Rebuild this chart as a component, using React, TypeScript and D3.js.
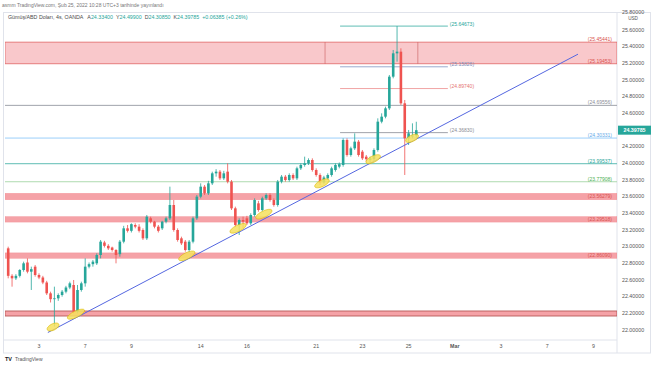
import React from 'react';
import * as d3 from 'd3';

// 4h bars, index 0 = Feb 1 00:00 (trading bars only, weekends skipped)
const firstBar = 4;
const opens = [
  22.98, 22.65, 22.62, 22.65, 22.72, 22.81, 22.70, 22.76, 22.66, 22.63, 22.57, 22.44, 22.37, 22.38, 22.42, 22.46, 22.51,
  22.54, 22.22, 22.48, 22.56, 22.76, 22.79, 22.80, 22.90, 23.05, 23.01, 22.99, 22.96, 22.91, 23.06, 23.22, 23.19,
  23.26, 23.24, 23.20, 23.10, 23.34, 23.30, 23.24, 23.22, 23.30, 23.34, 23.50, 23.20, 23.10, 23.06, 22.96, 23.06,
  23.34, 23.60, 23.72, 23.64, 23.76, 23.88, 23.90, 23.82, 23.90, 23.78, 23.46, 23.26, 23.32, 23.34, 23.28, 23.38,
  23.52, 23.44, 23.58, 23.62, 23.56, 23.50, 23.78, 23.84, 23.80, 23.86, 23.82, 23.94, 23.98, 24.00, 24.04, 23.92,
  23.86, 23.77, 23.82, 23.86, 23.92, 23.96, 23.98, 24.28, 24.10, 24.18, 24.26, 24.14, 24.08, 24.04, 24.05, 24.16,
  24.50, 24.56, 24.66, 25.04, 25.32, 25.34, 24.72, 24.30, 24.32, 24.334,
];
const highs = [
  23.00, 22.67, 22.67, 22.73, 22.82, 22.86, 22.76, 22.78, 22.68, 22.65, 22.59, 22.46, 22.52, 22.44, 22.48, 22.53, 22.58,
  22.60, 22.54, 22.58, 22.86, 22.81, 22.84, 22.92, 23.08, 23.07, 23.03, 23.00, 22.97, 23.08, 23.25, 23.26, 23.28,
  23.28, 23.27, 23.22, 23.38, 23.36, 23.31, 23.26, 23.31, 23.36, 23.72, 23.56, 23.22, 23.12, 23.08, 23.08, 23.36,
  23.62, 23.76, 23.74, 23.79, 23.90, 23.93, 23.92, 23.91, 24.00, 23.80, 23.48, 23.34, 23.36, 23.37, 23.40, 23.58,
  23.55, 23.60, 23.64, 23.64, 23.58, 23.80, 23.86, 23.86, 23.88, 23.88, 23.96, 24.00, 24.08, 24.06, 24.06, 23.94,
  23.88, 23.85, 23.88, 23.96, 24.00, 24.01, 24.30, 24.30, 24.20, 24.36, 24.28, 24.16, 24.10, 24.08, 24.18, 24.54,
  24.60, 24.68, 25.06, 25.36, 25.64673, 25.38, 24.76, 24.40, 24.48, 24.499,
];
const lows = [
  22.62, 22.52, 22.60, 22.63, 22.70, 22.68, 22.48, 22.64, 22.61, 22.55, 22.42, 22.33, 22.04, 22.35, 22.40, 22.44, 22.49,
  22.20, 22.20, 22.46, 22.52, 22.74, 22.76, 22.78, 22.86, 22.99, 22.96, 22.94, 22.80, 22.88, 23.04, 23.17, 23.17,
  23.22, 23.17, 23.08, 23.08, 23.28, 23.22, 23.17, 23.20, 23.28, 23.32, 23.18, 23.06, 23.02, 22.94, 22.93, 23.04,
  23.32, 23.58, 23.62, 23.62, 23.74, 23.84, 23.80, 23.80, 23.76, 23.44, 23.24, 23.14, 23.22, 23.26, 23.26, 23.36,
  23.42, 23.42, 23.56, 23.54, 23.48, 23.48, 23.76, 23.78, 23.78, 23.80, 23.80, 23.92, 23.96, 23.98, 23.90, 23.84,
  23.74, 23.75, 23.80, 23.84, 23.90, 23.94, 23.96, 24.08, 24.08, 24.16, 24.08, 24.04, 24.02, 24.00, 24.03, 24.14,
  24.48, 24.54, 24.64, 25.02, 25.22, 24.70, 23.86, 24.22, 24.30, 24.3085,
];
const closes = [
  22.65, 22.62, 22.65, 22.72, 22.80, 22.70, 22.73, 22.66, 22.63, 22.57, 22.44, 22.37, 22.38, 22.42, 22.46, 22.51, 22.56,
  22.22, 22.48, 22.56, 22.76, 22.79, 22.82, 22.90, 23.06, 23.01, 22.98, 22.96, 22.90, 23.06, 23.22, 23.19, 23.27,
  23.24, 23.19, 23.10, 23.36, 23.30, 23.24, 23.19, 23.30, 23.34, 23.50, 23.20, 23.08, 23.04, 22.96, 23.06, 23.34,
  23.60, 23.72, 23.64, 23.76, 23.88, 23.90, 23.82, 23.88, 23.78, 23.46, 23.26, 23.32, 23.30, 23.28, 23.38, 23.56,
  23.44, 23.58, 23.62, 23.56, 23.50, 23.78, 23.84, 23.80, 23.86, 23.82, 23.94, 23.98, 24.00, 24.04, 23.92, 23.86,
  23.77, 23.83, 23.86, 23.94, 23.98, 23.99, 24.28, 24.10, 24.18, 24.26, 24.10, 24.06, 24.05, 24.06, 24.16, 24.50,
  24.56, 24.66, 25.04, 25.32, 25.34, 24.72, 24.30, 24.36, 24.334, 24.39785,
];
const lastPrice = 24.39785;

const priceTicks = [25.8, 25.6, 25.4, 25.2, 25.0, 24.8, 24.6, 24.2, 24.0, 23.8, 23.6, 23.4, 23.2, 23.0, 22.8, 22.6, 22.4, 22.2, 22.0];
const dateTickBars = [12, 24, 36, 54, 66, 84, 96, 108, 120, 132, 144, 156];
const dateTickLabels = ['3', '7', '9', '14', '16', '21', '23', '25', 'Mar', '3', '7', '9'];

const fullLevels = [24.69556, 24.30331, 23.99537, 23.77908];
const fullLevelColors = ['#9598a1', '#90caf9', '#4db6ac', '#a5d6a7'];
const fullLabelColors = ['#8a8d96', '#64a9e8', '#26a69a', '#4caf50'];
const shortLevels = [25.64673, 25.15826, 24.8974, 24.3683];
const shortLevelColors = ['#4db6ac', '#8fa0c8', '#ef9a9a', '#9598a1'];
const shortLabelColors = ['#26a69a', '#7b8bb8', '#e57373', '#8a8d96'];
const shortSpan = [90.2, 118.2];
const bandLows = [23.56279, 23.29518, 22.8609, 22.168];
const bandHighs = [23.64, 23.36, 22.925, 22.228];
const bandLabels = ['(23.56279)', '(23.29518)', '(22.86090)', ''];
const zonePrices = [25.19453, 25.45441];
const zoneEdgeBars = [86.3, 110.4];
const trendBars = [14.3, 152];
const trendPrices = [21.97, 25.31];
const touchBars = [15.65, 21.6, 50.4, 63.7, 70.4, 85.5, 98.8, 108.9];
const touchPrices = [22.036, 22.19, 22.89, 23.22, 23.39, 23.76, 24.05, 24.3];
const touchSizes = [6.5, 9.5, 9, 9, 9, 8, 8, 7];

const W = 654;
const H = 366;
const plot = { left: 5, right: 617, top: 12.5, bottom: 340 };
const font = 'Liberation Sans, Arial, sans-serif';

export default function App() {
  const x = d3.scaleLinear().domain([0, 156]).range([-7.2, -7.2 + 156 * 3.85]);
  const y = d3.scaleLinear().domain([22, 25.8]).range([330, 13.33]);
  const fmt = (v: number) => v.toFixed(5);
  const bodyW = 2.6;

  return (
    <svg width={W} height={H} style={{ position: 'absolute', left: 0, top: 0, background: '#fff' }} fontFamily={font}>
      <defs>
        <clipPath id="plotClip">
          <rect x={plot.left} y={plot.top} width={plot.right - plot.left} height={plot.bottom - plot.top} />
        </clipPath>
      </defs>

      {/* header */}
      <text x={2} y={6.5} fontSize={5} fill="#777">asmm TradingView.com, Şub 25, 2022 10:28 UTC+3 tarihinde yayınlandı</text>
      <text x={8} y={19} fontSize={5.3} fill="#4a4a4a">
        Gümüş/ABD Doları, 4s, OANDA
        <tspan dx={4}>A</tspan><tspan fill="#26a69a">24.33400</tspan>
        <tspan dx={3}>Y</tspan><tspan fill="#26a69a">24.49900</tspan>
        <tspan dx={3}>D</tspan><tspan fill="#26a69a">24.30850</tspan>
        <tspan dx={3}>K</tspan><tspan fill="#26a69a">24.39785</tspan>
        <tspan dx={3} fill="#26a69a">+0.06385 (+0.26%)</tspan>
      </text>

      {/* frame */}
      <rect x={3.5} y={plot.top} width={647} height={353 - plot.top} fill="none" stroke="#e0e3eb" />
      <line x1={plot.right} x2={plot.right} y1={plot.top} y2={353} stroke="#e0e3eb" />
      <line x1={3.5} x2={plot.right} y1={plot.bottom} y2={plot.bottom} stroke="#e0e3eb" />

      <g clipPath="url(#plotClip)">
        {/* resistance zone */}
        <rect x={plot.left} width={plot.right - plot.left} y={y(zonePrices[1])} height={y(zonePrices[0]) - y(zonePrices[1])}
          fill="#f7b6ba" fillOpacity={0.75} stroke="#e06666" strokeWidth={0.8} />
        {zoneEdgeBars.map((b, k) => (
          <line key={k} x1={x(b)} x2={x(b)} y1={y(zonePrices[1])} y2={y(zonePrices[0])} stroke="#c95c5c" strokeWidth={0.6} />
        ))}

        {/* bands */}
        {bandLows.map((lo, k) => (
          <rect key={k} x={plot.left} width={plot.right - plot.left} y={y(bandHighs[k])} height={y(lo) - y(bandHighs[k])}
            fill="#f28b91" fillOpacity={0.8} stroke={k === 3 ? '#b85a5a' : '#f28b91'} strokeWidth={k === 3 ? 0.9 : 0.4} />
        ))}

        {/* full width levels */}
        {fullLevels.map((p, k) => (
          <line key={k} x1={plot.left} x2={plot.right} y1={y(p)} y2={y(p)} stroke={fullLevelColors[k]} strokeWidth={0.9} />
        ))}
        {/* short levels */}
        {shortLevels.map((p, k) => (
          <line key={k} x1={x(shortSpan[0])} x2={x(shortSpan[1])} y1={y(p)} y2={y(p)} stroke={shortLevelColors[k]} strokeWidth={0.9} />
        ))}

        {/* candles */}
        {closes.map((c, k) => {
          const i = firstBar + k;
          const o = opens[k];
          const up = c >= o;
          const col = up ? '#26a69a' : '#ef5350';
          const top = y(Math.max(o, c));
          const bot = y(Math.min(o, c));
          return (
            <g key={k}>
              <line x1={x(i)} x2={x(i)} y1={y(highs[k])} y2={y(lows[k])} stroke={col} strokeWidth={0.8} />
              <rect x={x(i) - bodyW / 2} width={bodyW} y={top} height={Math.max(0.8, bot - top)} fill={col} />
            </g>
          );
        })}

        {/* trend line */}
        <line x1={x(trendBars[0])} y1={y(trendPrices[0])} x2={x(trendBars[1])} y2={y(trendPrices[1])} stroke="#5567e0" strokeWidth={1} />

        {/* touch points */}
        {touchBars.map((b, k) => (
          <ellipse key={k} cx={x(b)} cy={y(touchPrices[k])} rx={touchSizes[k]} ry={3.2}
            transform={`rotate(-26 ${x(b)} ${y(touchPrices[k])})`}
            fill="#f6e05e" fillOpacity={0.85} stroke="#d9b900" strokeWidth={0.5} />
        ))}
      </g>

      {/* level labels */}
      <g fontSize={5} textAnchor="end">
        {fullLevels.map((p, k) => (
          <text key={k} x={612} y={y(p) - 1} fill={fullLabelColors[k]}>({fmt(p)})</text>
        ))}
        {bandLows.map((lo, k) => (
          <text key={k} x={612} y={(y(lo) + y(bandHighs[k])) / 2 + 1.8} fill="#d9534f">{bandLabels[k]}</text>
        ))}
        {zonePrices.map((p, k) => (
          <text key={k} x={612} y={y(p) - 1} fill="#d9534f">({fmt(p)})</text>
        ))}
      </g>
      <g fontSize={5}>
        {shortLevels.map((p, k) => (
          <text key={k} x={x(shortSpan[1]) + 2} y={y(p) - 0.5} fill={shortLabelColors[k]}>({fmt(p)})</text>
        ))}
      </g>

      {/* price axis */}
      <g fontSize={5.3} fill="#555">
        {priceTicks.map((p, k) => (
          <text key={k} x={622} y={k === 0 ? y(p) + 0.2 : y(p) + 1.8}>{fmt(p)}</text>
        ))}
        <text x={633} y={19.8} textAnchor="middle" fontSize={4.6}>USD</text>
      </g>
      <rect x={618} y={y(lastPrice) - 4.5} width={33} height={9} fill="#26a69a" />
      <text x={634.5} y={y(lastPrice) + 1.9} fontSize={5.3} fill="#fff" textAnchor="middle" fontWeight="bold">{fmt(lastPrice)}</text>

      {/* time axis */}
      <g fontSize={5.3} fill="#555" textAnchor="middle">
        {dateTickBars.map((b, k) => (
          <text key={k} x={x(b)} y={348} fontWeight={dateTickLabels[k] === 'Mar' ? 'bold' : 'normal'}>{dateTickLabels[k]}</text>
        ))}
      </g>

      {/* footer */}
      <text x={5} y={360.5} fontSize={5.5} fontWeight="bold" fill="#131722">TV</text>
      <text x={15} y={360.5} fontSize={5} fill="#555">TradingView</text>
    </svg>
  );
}
